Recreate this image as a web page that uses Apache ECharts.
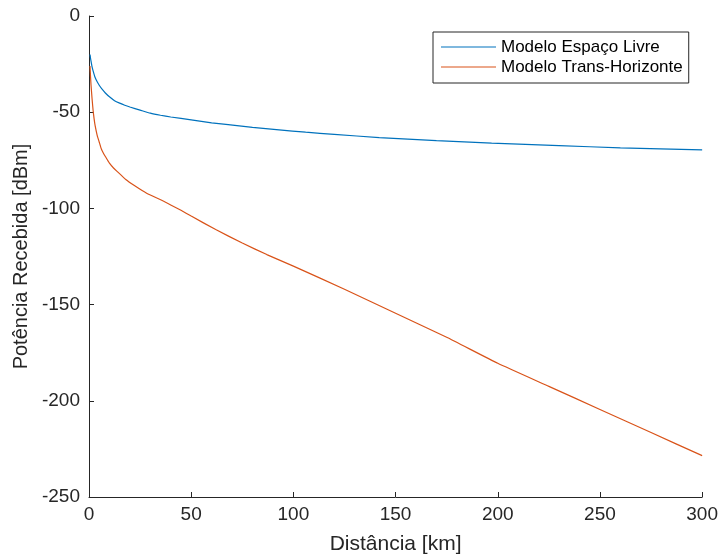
<!DOCTYPE html>
<html>
<head>
<meta charset="utf-8">
<script src="https://cdn.jsdelivr.net/npm/echarts@6/dist/echarts.min.js"></script>
<style>html,body{margin:0;padding:0;background:#fff}#c{width:721px;height:560px}</style>
</head>
<body>
<div id="c"></div>
<script>
const seriesNames = ['Modelo Espaço Livre', 'Modelo Trans-Horizonte'];
const xTicks = [0, 50, 100, 150, 200, 250, 300];
const yTicks = [-250, -200, -150, -100, -50, 0];

const livreDist = [0.5, 0.75, 1, 1.5, 2, 3, 4, 5, 6.5, 8, 10, 12.5, 15, 17.5, 20, 25, 30, 35, 40, 50, 60, 67, 80, 93, 106, 120, 142, 170, 197, 230, 260, 300];
const livrePow  = [-20, -22, -23.5, -26.5, -28.5, -32, -34.2, -36, -38.2, -40, -42, -44, -45.3, -46.4, -47.3, -48.9, -50.5, -51.6, -52.5, -54, -55.5, -56.3, -57.9, -59.2, -60.4, -61.5, -63.2, -64.8, -66.1, -67.4, -68.5, -69.6];

const transDist = [0.5, 0.75, 1, 1.5, 2, 2.5, 3, 4, 5, 6, 7, 8, 10, 12, 14, 18, 22, 28, 37, 45, 50, 62, 75, 87, 100, 125, 150, 175, 200, 225, 250, 275, 300];
const transPow  = [-26, -31.5, -36, -43, -49, -53.5, -57, -62, -65.5, -69, -71.2, -73, -76.5, -79, -81, -85, -88, -92, -96.5, -101, -104, -111, -118, -124, -130, -142, -154.5, -167, -180.5, -192.5, -204.5, -216.5, -228.5];

const pairs = (xs, ys) => xs.map((x, i) => [x, ys[i]]);
const axisColor = '#262626';
const font = 'Liberation Sans, Arial, Helvetica, sans-serif';

const chart = echarts.init(document.getElementById('c'), null, {renderer: 'canvas'});
chart.setOption({
  backgroundColor: '#ffffff',
  animation: false,
  grid: {left: 89, right: 18, top: 16, bottom: 60},
  legend: {
    orient: 'vertical',
    left: 433, top: 32,
    data: seriesNames,
    icon: 'rect',
    itemWidth: 55, itemHeight: 1.2,
    itemGap: 0,
    padding: [5, 6, 6, 8],
    borderColor: '#262626', borderWidth: 1,
    backgroundColor: '#fff',
    textStyle: {fontFamily: font, fontSize: 17, lineHeight: 20, color: '#000'}
  },
  xAxis: {
    type: 'value', min: 0, max: 300, interval: 50,
    name: 'Distância [km]', nameLocation: 'middle', nameGap: 37,
    nameTextStyle: {fontFamily: font, fontSize: 21, color: axisColor},
    axisLine: {show: true, onZero: false, lineStyle: {color: axisColor, width: 1}},
    axisTick: {show: true, inside: true, length: 5, lineStyle: {color: axisColor}},
    axisLabel: {fontFamily: font, fontSize: 19, color: axisColor, margin: 8,
      formatter: v => xTicks.includes(v) ? String(v) : ''},
    splitLine: {show: false}
  },
  yAxis: {
    type: 'value', min: -250, max: 0, interval: 50,
    name: 'Potência Recebida [dBm]', nameLocation: 'middle', nameGap: 55,
    nameTextStyle: {fontFamily: font, fontSize: 20, color: axisColor},
    axisLine: {show: true, onZero: false, lineStyle: {color: axisColor, width: 1}},
    axisTick: {show: true, inside: true, length: 5, lineStyle: {color: axisColor}},
    axisLabel: {fontFamily: font, fontSize: 19, color: axisColor, margin: 9,
      formatter: v => yTicks.includes(v) ? String(v) : ''},
    splitLine: {show: false}
  },
  series: [
    {
      name: seriesNames[0], type: 'line', data: pairs(livreDist, livrePow),
      showSymbol: false, smooth: 0.15,
      lineStyle: {color: '#0072BD', width: 1.2}, itemStyle: {color: '#0072BD'}
    },
    {
      name: seriesNames[1], type: 'line', data: pairs(transDist, transPow),
      showSymbol: false, smooth: 0.15,
      lineStyle: {color: '#D95319', width: 1.2}, itemStyle: {color: '#D95319'}
    }
  ]
});
</script>
</body>
</html>
